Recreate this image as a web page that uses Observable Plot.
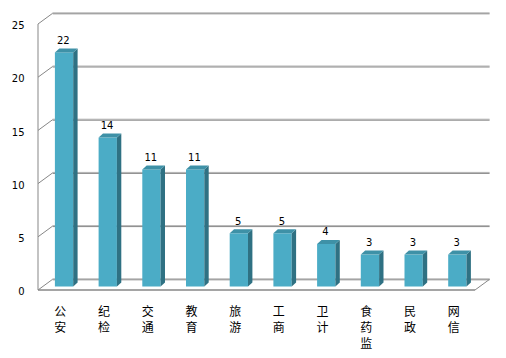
<!DOCTYPE html>
<html>
<head>
<meta charset="utf-8">
<script src="https://cdn.jsdelivr.net/npm/d3@7"></script>
<script src="https://cdn.jsdelivr.net/npm/@observablehq/plot@0.6"></script>
<style>
  html, body { margin: 0; padding: 0; background: #fff; }
  #chart { width: 506px; height: 358px; }
</style>
</head>
<body>
<div id="chart"></div>
<script>
// ---- data ----
const categories = ["公安", "纪检", "交通", "教育", "旅游", "工商", "卫计", "食药监", "民政", "网信"];
const counts = [22, 14, 11, 11, 5, 5, 4, 3, 3, 3];
const yTicks = [0, 5, 10, 15, 20, 25];

const rows = categories.map((c, i) => ({cat: c, n: counts[i]}));

// ---- 3D look (pixel offsets) ----
const WALL_DX = 14.6, WALL_DY = -10.7;   // depth of the back wall
const BAR_DX = 4.2, BAR_DY = -3.5;       // bars sit at mid-depth
const BAR_SIDE_DX = 4.4, BAR_SIDE_DY = -4; // bar depth
const BAR_INSET = 12.7;
const FRONT = "#4bacc6", SIDE = "#2f7183", TOP = "#3e91a7";
const GRID_DARK = "#878787", GRID_LIGHT = "#b4b4b4";

function bandBounds(x) {
  const bw = typeof x.bandwidth === "function" ? x.bandwidth() : (x(categories[1]) - x(categories[0]));
  return {left: x(categories[0]), right: x(categories[categories.length - 1]) + bw, bw};
}

// walls, grid and floor drawn through the plot's scales
function walls(index, scales) {
  const {x, y} = scales;
  const {left, right} = bandBounds(x);
  const g = d3.create("svg:g").attr("fill", "none");
  for (const t of yTicks) {
    const yf = y(t);
    g.append("line").attr("x1", left + WALL_DX).attr("x2", right + WALL_DX)
      .attr("y1", yf + WALL_DY - 0.5).attr("y2", yf + WALL_DY - 0.5)
      .attr("stroke", GRID_LIGHT).attr("stroke-width", 1);
    g.append("line").attr("x1", left + WALL_DX).attr("x2", right + WALL_DX)
      .attr("y1", yf + WALL_DY + 0.5).attr("y2", yf + WALL_DY + 0.5)
      .attr("stroke", GRID_DARK).attr("stroke-width", 1);
    g.append("line").attr("x1", left).attr("y1", yf)
      .attr("x2", left + WALL_DX).attr("y2", yf + WALL_DY)
      .attr("stroke", GRID_DARK).attr("stroke-width", 1);
  }
  const y0 = y(0), yTop = y(yTicks[yTicks.length - 1]);
  g.append("line").attr("x1", left).attr("x2", left).attr("y1", yTop).attr("y2", y0)
    .attr("stroke", GRID_DARK).attr("stroke-width", 1);
  g.append("line").attr("x1", left).attr("x2", right).attr("y1", y0).attr("y2", y0)
    .attr("stroke", GRID_DARK).attr("stroke-width", 1.3);
  g.append("line").attr("x1", right).attr("y1", y0)
    .attr("x2", right + WALL_DX).attr("y2", y0 + WALL_DY)
    .attr("stroke", GRID_DARK).attr("stroke-width", 1);
  return g.node();
}

// side and top faces of each bar
function barFaces(index, scales) {
  const {x, y} = scales;
  const {bw} = bandBounds(x);
  const g = d3.create("svg:g");
  for (const r of rows) {
    const xl = x(r.cat) + BAR_INSET + BAR_DX;
    const xr = x(r.cat) + bw - BAR_INSET + BAR_DX;
    const yt = y(r.n) + BAR_DY;
    const yb = y(0) + BAR_DY;
    g.append("path")
      .attr("d", `M${xr},${yt}L${xr + BAR_SIDE_DX},${yt + BAR_SIDE_DY}L${xr + BAR_SIDE_DX},${yb + BAR_SIDE_DY}L${xr},${yb}Z`)
      .attr("fill", SIDE);
    g.append("path")
      .attr("d", `M${xl},${yt}L${xr},${yt}L${xr + BAR_SIDE_DX},${yt + BAR_SIDE_DY}L${xl + BAR_SIDE_DX},${yt + BAR_SIDE_DY}Z`)
      .attr("fill", TOP);
  }
  return g.node();
}

const chart = Plot.plot({
  width: 506,
  height: 358,
  marginLeft: 38,
  marginRight: 31,
  marginTop: 24,
  marginBottom: 68,
  style: {fontFamily: "'DejaVu Sans', Verdana, sans-serif", fontSize: "10px", color: "#000", background: "#fff"},
  x: {domain: categories, padding: 0, round: false, axis: null, label: null},
  y: {domain: [0, 25], axis: null, label: null},
  marks: [
    walls,
    Plot.barY(rows, {x: "cat", y: "n", fill: FRONT, insetLeft: BAR_INSET, insetRight: BAR_INSET, dx: BAR_DX, dy: BAR_DY}),
    barFaces,
    Plot.text(rows, {x: "cat", y: "n", text: d => String(d.n), dx: 3, dy: BAR_DY - 9, lineAnchor: "bottom", fill: "#000", fontSize: 10}),
    Plot.axisY(yTicks, {tickSize: 0, tickPadding: 14, dy: 1.5, label: null, fontSize: 10, fill: "#000"}),
    Plot.axisX(categories, {
      tickSize: 0, tickPadding: 14, label: null,
      tickFormat: d => Array.from(d).join("\n"),
      lineHeight: 1.33, fontSize: 12, fill: "#000",
      fontFamily: "'Noto Sans CJK SC', sans-serif"
    })
  ]
});
document.getElementById("chart").appendChild(chart);
</script>
</body>
</html>
